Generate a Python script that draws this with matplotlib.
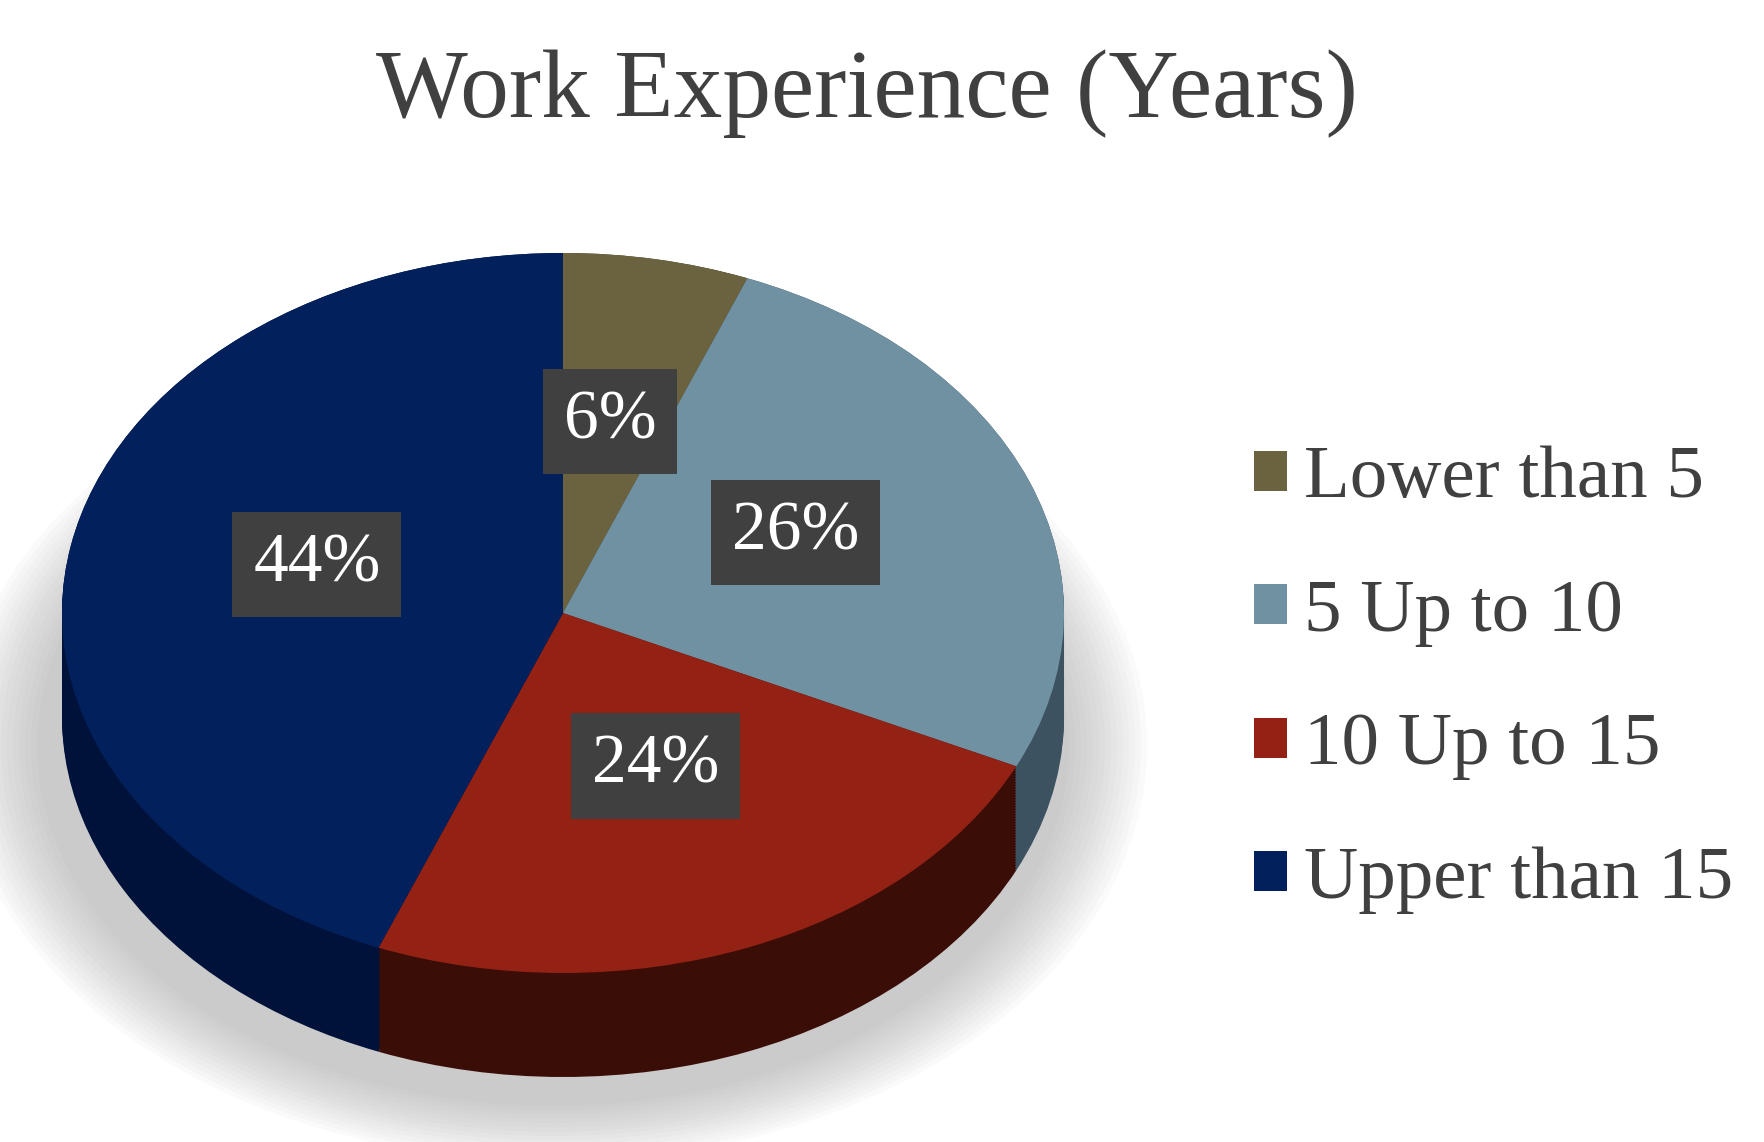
import matplotlib.pyplot as plt
from matplotlib.patches import Ellipse
import numpy as np

categories = ['Lower than 5', '5 Up to 10', '10 Up to 15', 'Upper than 15']
shares = [6, 26, 24, 44]
top_colors = ['#6b6340', '#7091a2', '#932215', '#01205c']
side_colors = ['#3a3520', '#3d5260', '#3a0d07', '#00123a']

plt.rcParams['font.family'] = ['Liberation Serif', 'DejaVu Serif']

W, H = 1765, 1142
fig = plt.figure(figsize=(W / 100, H / 100), dpi=100)
ax = fig.add_axes([0, 0, 1, 1])

# pixel geometry of the tilted pie
cx, cy, rx, ry, depth = 563, 613, 501, 360, 104

# soft shadow under the pie
for i in range(14):
    grow = 0.012 * i
    ax.add_patch(Ellipse((-0.02, -depth / ry - 0.08), 2 * (1.03 + grow), 2 * (1.0 + grow),
                         facecolor='#9a9a9a', edgecolor='none', alpha=0.045, zorder=0))

# side wall: stack of dark pies shifted downward
for d in np.linspace(depth / ry, 0.0, 40):
    ax.pie(shares, colors=side_colors, startangle=90, counterclock=False,
           center=(0, -d), radius=1, wedgeprops=dict(linewidth=0))

# top face
wedges, texts, autotexts = ax.pie(
    shares, colors=top_colors, startangle=90, counterclock=False,
    center=(0, 0), radius=1, autopct='%1.0f%%', pctdistance=0.5,
    wedgeprops=dict(linewidth=0),
    textprops=dict(color='white', fontsize=50))
for t in autotexts:
    x, y = t.get_position()
    t.set_position((x, y + 0.04))
    t.set_bbox(dict(boxstyle='square,pad=0.3', facecolor='#404040',
                    edgecolor='none'))

ax.set_aspect('auto')
ax.set_xlim(-cx / rx, (W - cx) / rx)
ax.set_ylim(-(H - cy) / ry, cy / ry)
ax.axis('off')

fig.text(867 / W, 1 - 94 / H, 'Work Experience (Years)', ha='center', va='center',
         fontsize=70, color='#404040')

leg = ax.legend(wedges, categories, loc='center left',
                bbox_to_anchor=(1186 / W, 1 - 680 / H), bbox_transform=fig.transFigure,
                frameon=False, fontsize=54, handlelength=0.45, handleheight=0.45,
                handletextpad=0.22, labelspacing=0.88)
for t in leg.get_texts():
    t.set_color('#404040')

fig.savefig('out.png', dpi=100)
